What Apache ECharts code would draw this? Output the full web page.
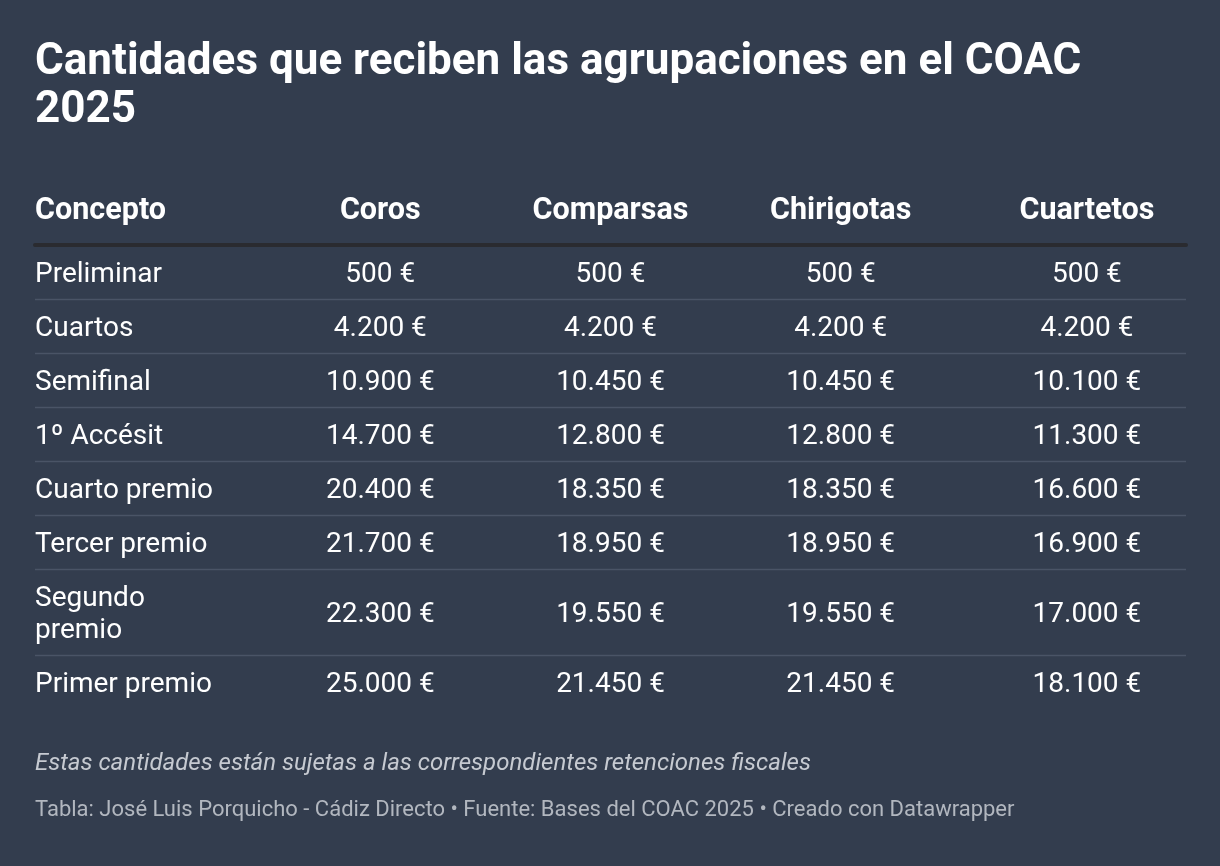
<!DOCTYPE html>
<html><head><meta charset="utf-8">
<script src="https://cdn.jsdelivr.net/npm/echarts@6/dist/echarts.min.js"></script>
<style>html,body{margin:0;padding:0;background:#333d4e;}#c{width:1220px;height:866px;}</style>
</head><body><div id="c"></div>
<script>
const titleText = 'Cantidades que reciben las agrupaciones en el COAC 2025';
const footnote = 'Estas cantidades están sujetas a las correspondientes retenciones fiscales';
const credit = 'Tabla: José Luis Porquicho - Cádiz Directo • Fuente: Bases del COAC 2025 • Creado con Datawrapper';
const headers = ['Concepto', 'Coros', 'Comparsas', 'Chirigotas', 'Cuartetos'];
const concepts = ['Preliminar', 'Cuartos', 'Semifinal', '1º Accésit', 'Cuarto premio', 'Tercer premio', 'Segundo premio', 'Primer premio'];
const coros = [500, 4200, 10900, 14700, 20400, 21700, 22300, 25000];
const comparsas = [500, 4200, 10450, 12800, 18350, 18950, 19550, 21450];
const chirigotas = [500, 4200, 10450, 12800, 18350, 18950, 19550, 21450];
const cuartetos = [500, 4200, 10100, 11300, 16600, 16900, 17000, 18100];

const valueCols = [coros, comparsas, chirigotas, cuartetos];
const FONT = 'Roboto';
const BODY = 28;
const HEAD = 30.5;
const LINE_H = 32;
const ROW_H = 54;
const TEXT_DY = 3;
const CONCEPT_MAX = 195;
const COL_SHIFT = [0, 0, 0, 0, 16];

function fmt(v) {
  return String(v).replace(/\B(?=(\d{3})+(?!\d))/g, '.') + ' €';
}
const mctx = document.createElement('canvas').getContext('2d');
mctx.font = BODY + 'px ' + FONT;
function wrap(t) {
  const words = t.split(' ');
  const out = [];
  let cur = '';
  words.forEach(w => {
    const test = cur ? cur + ' ' + w : w;
    if (cur && mctx.measureText(test).width > CONCEPT_MAX) { out.push(cur); cur = w; }
    else cur = test;
  });
  out.push(cur);
  return out;
}
const conceptLines = concepts.map(wrap);
const rowUnits = conceptLines.map(l => (ROW_H + (l.length - 1) * LINE_H) / ROW_H);
const rowTop = [];
let acc = 0;
rowUnits.forEach(u => { rowTop.push(acc); acc += u; });
const total = acc;

const cells = [];
concepts.forEach((c, r) => {
  cells.push({ c: 0, r: r, text: conceptLines[r].join('\n') });
  valueCols.forEach((col, j) => cells.push({ c: j + 1, r: r, text: fmt(col[r]) }));
});

const headRich = { color: '#fff', fontFamily: FONT, fontWeight: 'bold', fontSize: HEAD };
const chart = echarts.init(document.getElementById('c'), null, { renderer: 'canvas' });
chart.setOption({
  backgroundColor: '#333d4e',
  animation: false,
  title: [
    { text: titleText, left: 35, top: 39, padding: 0,
      textStyle: { color: '#ffffff', fontFamily: FONT, fontWeight: 'bold', fontSize: 44, lineHeight: 48, width: 1120, overflow: 'break' } },
    { text: footnote, left: 35, top: 752, padding: 0,
      textStyle: { color: '#c6cad1', fontFamily: FONT, fontStyle: 'italic', fontWeight: 'normal', fontSize: 24, lineHeight: 24 } },
    { text: credit, left: 35, top: 799, padding: 0,
      textStyle: { color: '#b2b7bf', fontFamily: FONT, fontWeight: 'normal', fontSize: 22, lineHeight: 22 } }
  ],
  grid: { left: 35, right: 34, top: 245, bottom: 157 },
  xAxis: {
    type: 'category', position: 'top', data: headers,
    axisLine: { show: true, lineStyle: { color: '#2a2b30', width: 4 } },
    axisTick: { show: false }, splitLine: { show: false },
    axisLabel: {
      margin: 18, interval: 0,
      formatter: (v, i) => i === 0 ? '{l|' + v + '}' : (COL_SHIFT[i] ? '{s|' + v + '}' : '{h|' + v + '}'),
      rich: {
        l: Object.assign({ width: 230, align: 'left' }, headRich),
        h: Object.assign({ align: 'center' }, headRich),
        s: Object.assign({ align: 'center', padding: [0, 0, 0, 2 * COL_SHIFT[4]] }, headRich)
      }
    }
  },
  yAxis: { type: 'value', inverse: true, min: 0, max: total, show: false, splitLine: { show: false } },
  series: [{
    type: 'custom',
    data: cells.map(d => [d.c, d.r]),
    renderItem: (params, api) => {
      const cell = cells[params.dataIndex];
      const c = cell.c, r = cell.r;
      const pt = api.coord([c, rowTop[r] + rowUnits[r] / 2]);
      const bw = api.size([1, 0])[0];
      const children = [{
        type: 'text',
        style: {
          text: cell.text, x: c === 0 ? pt[0] - bw / 2 : pt[0] + COL_SHIFT[c], y: pt[1] + TEXT_DY,
          align: c === 0 ? 'left' : 'center', verticalAlign: 'middle',
          fill: '#ffffff', fontFamily: FONT, fontSize: BODY, lineHeight: LINE_H
        }
      }];
      if (c === 0 && r < concepts.length - 1) {
        const yb = Math.round(api.coord([0, rowTop[r] + rowUnits[r]])[1]) + 0.5;
        const cs = params.coordSys;
        children.push({ type: 'line', shape: { x1: cs.x, y1: yb, x2: cs.x + cs.width, y2: yb },
          style: { stroke: '#4a5466', lineWidth: 1.5 } });
      }
      return { type: 'group', children: children };
    }
  }]
});
</script></body></html>
